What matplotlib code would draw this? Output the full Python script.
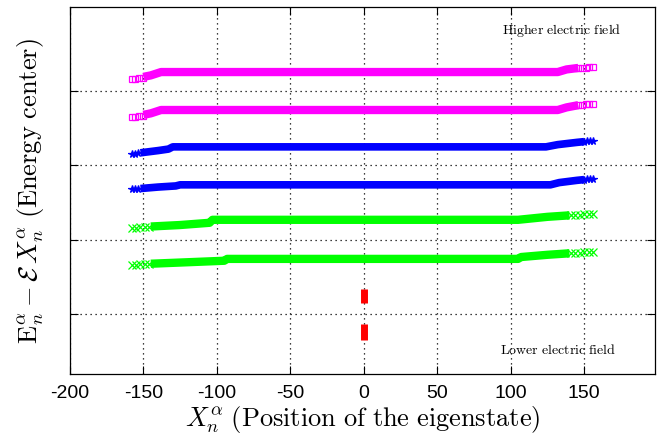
import matplotlib
matplotlib.use("Agg")
import matplotlib.pyplot as plt

plt.rcParams.update({
    "mathtext.fontset": "cm",
    "axes.unicode_minus": False,
    "font.family": ["Liberation Sans", "DejaVu Sans"],
})

MAG, BLUE, GREEN, RED = "#ff00ff", "#0000ff", "#00ff00", "#ff0000"

# each band: dense core line (x, y) + sparse end points
MAG1_X = [-150, -145, -138, 132, 138, 146]
MAG1_Y = [4.19, 4.21, 4.255, 4.255, 4.29, 4.31]
MAG1_END_X = [-158, -155.5, -153, -150.5, 146, 148.5, 151, 153.5, 156]
MAG1_END_Y = [4.16, 4.165, 4.17, 4.18, 4.31, 4.315, 4.315, 4.32, 4.32]

MAG2_X = [-150, -145, -138, 132, 138, 146]
MAG2_Y = [3.68, 3.70, 3.745, 3.745, 3.78, 3.81]
MAG2_END_X = [-158, -155.5, -153, -150.5, 146, 148.5, 151, 153.5, 156]
MAG2_END_Y = [3.65, 3.655, 3.66, 3.67, 3.81, 3.815, 3.82, 3.825, 3.83]

BLUE1_X = [-152, -140, -133, -130, 124, 132, 145, 150]
BLUE1_Y = [3.17, 3.20, 3.22, 3.25, 3.25, 3.28, 3.31, 3.32]
BLUE1_END_X = [-158, -156, -154, 150, 152, 154, 156]
BLUE1_END_Y = [3.155, 3.16, 3.165, 3.32, 3.325, 3.33, 3.33]

BLUE2_X = [-152, -140, -128, -125, 127, 133, 145, 150]
BLUE2_Y = [2.69, 2.71, 2.725, 2.74, 2.74, 2.77, 2.80, 2.81]
BLUE2_END_X = [-158, -156, -154, 150, 152, 154, 156]
BLUE2_END_Y = [2.68, 2.685, 2.69, 2.81, 2.815, 2.82, 2.82]

GREEN1_X = [-145, -125, -105, -103, 105, 125, 140]
GREEN1_Y = [2.18, 2.20, 2.23, 2.27, 2.27, 2.31, 2.33]
GREEN1_END_X = [-158, -155, -152, -149, -146, 141, 144, 147, 150, 153, 156]
GREEN1_END_Y = [2.16, 2.165, 2.17, 2.175, 2.18, 2.33, 2.335, 2.34, 2.345, 2.35, 2.35]

GREEN2_X = [-145, -120, -95, -93, 105, 107, 125, 140]
GREEN2_Y = [1.68, 1.70, 1.72, 1.745, 1.745, 1.77, 1.80, 1.82]
GREEN2_END_X = [-158, -155, -152, -149, -146, 141, 144, 147, 150, 153, 156]
GREEN2_END_Y = [1.66, 1.665, 1.67, 1.675, 1.68, 1.82, 1.825, 1.83, 1.835, 1.84, 1.84]

RED1_Y = [1.15, 1.34]
RED2_Y = [0.66, 0.87]

XTICKS = [-200, -150, -100, -50, 0, 50, 100, 150]
YTICKS = [1, 2, 3, 4]

fig = plt.figure(figsize=(6.6, 4.39), dpi=100)
ax = fig.add_axes([0.106, 0.146, 0.886, 0.836])


def band(x, y, ex, ey, color, marker, lw, ms, mfc):
    ax.plot(x, y, color=color, lw=lw, solid_capstyle="butt", zorder=3)
    ax.plot(ex, ey, ls="none", marker=marker, color=color, ms=ms, mfc=mfc,
            mew=0.9, zorder=3)


band(MAG1_X, MAG1_Y, MAG1_END_X, MAG1_END_Y, MAG, "s", 6.0, 5, "none")
band(MAG2_X, MAG2_Y, MAG2_END_X, MAG2_END_Y, MAG, "s", 6.0, 5, "none")
band(BLUE1_X, BLUE1_Y, BLUE1_END_X, BLUE1_END_Y, BLUE, "*", 5.5, 5.5, BLUE)
band(BLUE2_X, BLUE2_Y, BLUE2_END_X, BLUE2_END_Y, BLUE, "*", 5.5, 5.5, BLUE)
band(GREEN1_X, GREEN1_Y, GREEN1_END_X, GREEN1_END_Y, GREEN, "x", 6.0, 5.5, GREEN)
band(GREEN2_X, GREEN2_Y, GREEN2_END_X, GREEN2_END_Y, GREEN, "x", 6.0, 5.5, GREEN)
ax.plot([0, 0], RED1_Y, color=RED, lw=5, solid_capstyle="butt", zorder=3)
ax.plot([0, 0], RED2_Y, color=RED, lw=5, solid_capstyle="butt", zorder=3)

ax.set_xlim(-200, 198)
ax.set_ylim(0.2, 5.13)
ax.set_xticks(XTICKS)
ax.set_yticks(YTICKS)
ax.set_yticklabels([])
ax.tick_params(direction="in", length=6, width=0.8, top=True, right=True,
               labelsize=14, pad=7)
ax.grid(True, color="black", ls=(0, (1, 3)), lw=0.9)
for s in ax.spines.values():
    s.set_linewidth(0.9)

ax.text(135, 4.82, r"$\mathrm{Higher\ electric\ field}$", ha="center", va="center",
        fontsize=10)
ax.text(132, 0.54, r"$\mathrm{Lower\ electric\ field}$", ha="center", va="center",
        fontsize=10)

ax.set_xlabel(r"$X_n^\alpha$ $\mathrm{(Position\ of\ the\ eigenstate)}$",
              fontsize=19, labelpad=2)
ax.set_ylabel(r"$\mathrm{E}_n^\alpha - \mathcal{E}\,X_n^\alpha$ $\mathrm{(Energy\ center)}$",
              fontsize=19, labelpad=10)

fig.savefig("out.png", dpi=100)
